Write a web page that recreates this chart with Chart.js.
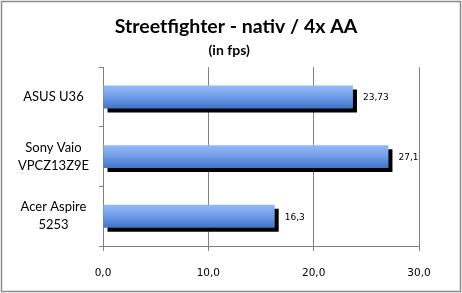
<!DOCTYPE html>
<html>
<head>
<meta charset="utf-8">
<script src="https://cdn.jsdelivr.net/npm/chart.js@4/dist/chart.umd.min.js"></script>
<style>
  html, body { margin: 0; padding: 0; background: #fff; }
  #wrap { width: 462px; height: 293px; position: relative; }
</style>
</head>
<body>
<div id="wrap"><canvas id="c" width="462" height="293"></canvas></div>
<script>
const titleText = "Streetfighter - nativ / 4x AA";
const subtitleText = "(in fps)";
const categories = [["ASUS U36"], ["Sony Vaio", "VPCZ13Z9E"], ["Acer Aspire", "5253"]];
const fpsValues = [23.73, 27.1, 16.3];
const valueLabels = ["23,73", "27,1", "16,3"];
const xTicks = [0, 10, 20, 30];

const BAR_PCT = 0.385;
const fmt = v => v.toFixed(1).replace('.', ',');

const borderPlugin = {
  id: 'outerBorder',
  beforeDraw(chart) {
    const c = chart.ctx;
    c.save();
    c.fillStyle = '#ffffff';
    c.fillRect(0, 0, chart.width, chart.height);
    c.strokeStyle = '#8a8a8a';
    c.lineWidth = 1.5;
    c.strokeRect(1.5, 1.5, chart.width - 3, chart.height - 3);
    c.restore();
  }
};

const shadowPlugin = {
  id: 'barShadow',
  beforeDatasetsDraw(chart) {
    const c = chart.ctx;
    c.save();
    c.shadowColor = '#000000';
    c.shadowOffsetX = 4;
    c.shadowOffsetY = 4;
    c.shadowBlur = 0;
  },
  afterDatasetsDraw(chart) {
    const c = chart.ctx;
    c.restore();
    const meta = chart.getDatasetMeta(0);
    c.save();
    c.font = '9px "DejaVu Sans"';
    c.fillStyle = '#000';
    c.textAlign = 'left';
    c.textBaseline = 'middle';
    meta.data.forEach((el, i) => {
      c.fillText(valueLabels[i], el.x + 10, el.y + 1);
    });
    c.restore();
  }
};

function barGradient(ctx) {
  const chart = ctx.chart;
  if (ctx.type !== 'data' || !chart.chartArea || !chart.scales.y) return '#5b8ddc';
  const ys = chart.scales.y;
  const cy = ys.getPixelForValue(ctx.dataIndex);
  const h = (chart.chartArea.height / categories.length) * BAR_PCT;
  const g = chart.ctx.createLinearGradient(0, cy - h / 2, 0, cy + h / 2);
  g.addColorStop(0, '#93b9f8');
  g.addColorStop(0.45, '#74a0ea');
  g.addColorStop(1, '#3e73c8');
  return g;
}

new Chart(document.getElementById('c'), {
  type: 'bar',
  data: {
    labels: categories,
    datasets: [{
      data: fpsValues,
      backgroundColor: barGradient,
      borderWidth: 0,
      barPercentage: BAR_PCT,
      categoryPercentage: 1.0
    }]
  },
  options: {
    indexAxis: 'y',
    responsive: false,
    animation: false,
    devicePixelRatio: 1,
    layout: { padding: { left: 10, right: 0, top: 0, bottom: 0 } },
    plugins: {
      legend: { display: false },
      tooltip: { enabled: false },
      title: {
        display: true,
        text: titleText,
        color: '#000',
        font: { family: 'Lato', size: 19.5, weight: 'bold' },
        padding: { top: 15, bottom: 3 }
      },
      subtitle: {
        display: true,
        text: subtitleText + '    ',
        color: '#000',
        font: { family: 'Lato', size: 14, weight: 'bold' },
        padding: { top: 1, bottom: 8 }
      }
    },
    scales: {
      x: {
        min: 0, max: 30,
        afterBuildTicks(scale) { scale.ticks = xTicks.map(v => ({ value: v })); },
        afterFit(scale) { scale.height = 47; },
        grid: { color: '#808080', tickLength: 5, lineWidth: 1 },
        border: { color: '#808080' },
        ticks: {
          callback: v => fmt(v),
          color: '#000',
          font: { family: 'DejaVu Sans', size: 10.5 },
          padding: 16,
          maxRotation: 0
        }
      },
      y: {
        afterFit(scale) { scale.width = 93; },
        grid: { offset: true, drawOnChartArea: false, color: '#808080', tickLength: 4 },
        border: { color: '#808080' },
        ticks: {
          color: '#000',
          crossAlign: 'center',
          font: { family: 'Lato', size: 13, lineHeight: 1.38 },
          padding: 10
        }
      },
      spacer: {
        type: 'linear',
        position: 'right',
        display: true,
        afterFit(scale) { scale.width = 43; },
        grid: { display: false },
        border: { display: false },
        ticks: { display: false }
      }
    }
  },
  plugins: [borderPlugin, shadowPlugin]
});
</script>
</body>
</html>
